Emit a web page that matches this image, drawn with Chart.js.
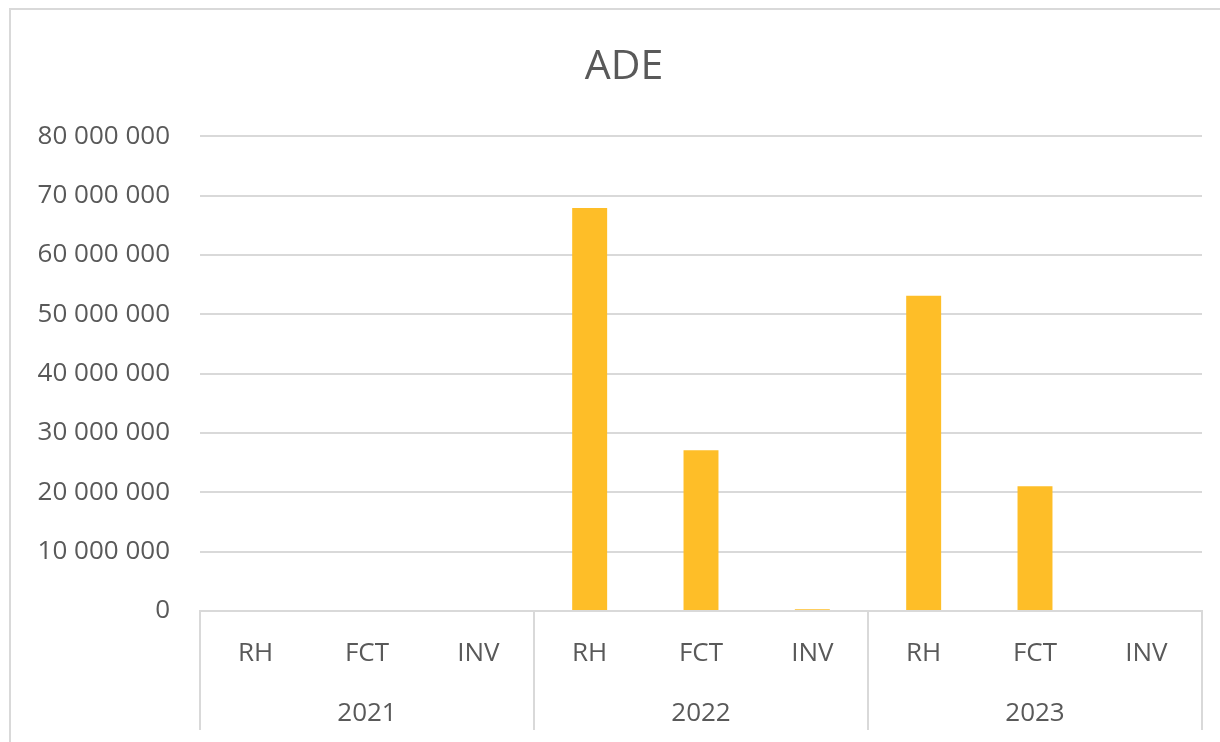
<!DOCTYPE html>
<html>
<head>
<meta charset="utf-8">
<script src="https://cdn.jsdelivr.net/npm/chart.js@4"></script>
<style>
  body { margin: 0; background: #fff; }
  #frame {
    position: absolute;
    left: 9px;
    top: 8px;
    width: 1230px;
    height: 760px;
    border: 2px solid #d9d9d9;
  }
  #myChart { position: absolute; left: 0; top: 0; }
</style>
</head>
<body>
<div id="frame"></div>
<canvas id="myChart" width="1220" height="742"></canvas>
<script>
const YEARS = ['2021', '2022', '2023'];
const ITEMS = ['RH', 'FCT', 'INV'];
const VALUES_2021 = [0, 0, 0];
const VALUES_2022 = [67900000, 27100000, 300000];
const VALUES_2023 = [53100000, 21000000, 0];
const Y_TICKS_MAX = 80000000;
const Y_TICKS_STEP = 10000000;

const TEXT = '#595959';
const GRID = '#d9d9d9';
const FONT = 'Open Sans';

const labels = YEARS.flatMap(() => ITEMS);
const values = [...VALUES_2021, ...VALUES_2022, ...VALUES_2023];

function spaced(v) {
  return String(v).replace(/\B(?=(\d{3})+(?!\d))/g, ' ');
}

// group separator lines under the category axis
const groupLines = {
  id: 'groupLines',
  afterLayout(chart) {
    // let the y tick labels use the left padding (title is centred over it)
    chart.scales.y.left = 0;
  },
  afterDraw(chart) {
    const { ctx, chartArea, scales } = chart;
    const x = scales.x;
    const bottom = scales.x2.bottom;
    const edges = [chartArea.left];
    for (let i = ITEMS.length; i < labels.length; i += ITEMS.length) {
      edges.push((x.getPixelForValue(i - 1) + x.getPixelForValue(i)) / 2);
    }
    edges.push(chartArea.right);
    ctx.save();
    ctx.strokeStyle = GRID;
    ctx.lineWidth = 2;
    edges.forEach(px => {
      ctx.beginPath();
      ctx.moveTo(px, chartArea.bottom);
      ctx.lineTo(px, bottom);
      ctx.stroke();
    });
    ctx.restore();
  }
};

const ctx = document.getElementById('myChart').getContext('2d');

const chart = new Chart(ctx, {
  type: 'bar',
  data: {
    labels,
    datasets: [{
      label: 'ADE',
      data: values,
      backgroundColor: '#febe28',
      barPercentage: 0.314,
      categoryPercentage: 1
    }]
  },
  options: {
    responsive: false,
    animation: false,
    devicePixelRatio: 1,
    layout: { padding: { left: 46, right: 18, top: 0, bottom: 12 } },
    plugins: {
      legend: { display: false },
      tooltip: { enabled: false },
      title: {
        display: true,
        text: 'ADE',
        color: TEXT,
        font: { family: FONT, size: 41, weight: 'normal' },
        padding: { top: 43, bottom: 44 }
      }
    },
    scales: {
      y: {
        min: 0,
        max: Y_TICKS_MAX,
        afterFit: scale => { scale.width = 154; },
        border: { display: false },
        grid: { color: GRID, lineWidth: 2, drawTicks: false },
        ticks: {
          stepSize: Y_TICKS_STEP,
          padding: 30,
          color: TEXT,
          font: { family: FONT, size: 26 },
          callback: v => spaced(v)
        }
      },
      x: {
        afterFit: scale => { scale.height = 56; },
        grid: { display: false },
        border: { display: true, color: GRID, width: 2 },
        ticks: {
          padding: 19,
          color: TEXT,
          font: { family: FONT, size: 26 },
          maxRotation: 0
        }
      },
      x2: {
        type: 'category',
        position: 'bottom',
        labels: YEARS,
        offset: true,
        afterFit: scale => { scale.height = 63; },
        grid: { display: false },
        border: { display: false },
        ticks: {
          padding: 23,
          color: TEXT,
          font: { family: FONT, size: 26 },
          maxRotation: 0
        }
      }
    }
  },
  plugins: [groupLines]
});
</script>
</body>
</html>
